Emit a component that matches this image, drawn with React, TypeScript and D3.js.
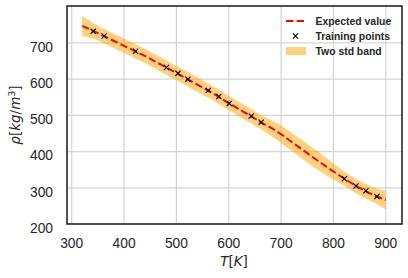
import * as d3 from "d3";

// prediction grid (K) and GP output
const tGrid = [
  320, 340, 360, 380, 400, 420, 440, 460, 480, 500, 520, 540, 560, 580, 600,
  620, 640, 660, 680, 700, 720, 740, 760, 780, 800, 820, 840, 860, 880, 900,
];
const expected = [
  747, 734, 720, 706, 692, 678, 664, 648, 633, 617, 601, 585, 569, 552, 534,
  517, 500, 482, 466, 448, 427, 406, 385, 365, 345, 326, 308, 292, 278, 266,
];
// two standard deviations
const twoStd = [
  28, 22, 20, 20, 20, 20, 20, 20, 20, 20, 20, 20, 20, 20, 20,
  20, 20, 20, 22, 24, 25, 26, 26, 25, 23, 20, 20, 20, 21, 26,
];

const trainT = [
  341, 362, 422, 481, 503, 522, 561, 581, 601, 643, 662, 821, 843, 862, 883,
];
const trainRho = [
  732, 719, 677, 632, 616, 600, 569, 552, 533, 498, 481, 325, 305, 292, 276,
];

const xTicks = [300, 400, 500, 600, 700, 800, 900];
const yTicks = [200, 300, 400, 500, 600, 700];

const legendLabels = ["Expected value", "Training points", "Two std band"];

export default function App() {
  const width = 408;
  const height = 278;
  const marginLeft = 67;
  const marginRight = 6;
  const marginTop = 6;
  const marginBottom = 54;

  const x = d3
    .scaleLinear()
    .domain([291, 931])
    .range([marginLeft, width - marginRight]);
  const y = d3
    .scaleLinear()
    .domain([200, 802])
    .range([height - marginBottom, marginTop]);

  const rows = tGrid.map((t, i) => ({
    t,
    mean: expected[i],
    lo: expected[i] - twoStd[i],
    hi: expected[i] + twoStd[i],
  }));

  const band = d3
    .area<(typeof rows)[number]>()
    .x((d) => x(d.t))
    .y0((d) => y(d.lo))
    .y1((d) => y(d.hi))
    .curve(d3.curveMonotoneX);
  const line = d3
    .line<(typeof rows)[number]>()
    .x((d) => x(d.t))
    .y((d) => y(d.mean))
    .curve(d3.curveMonotoneX);

  const tickFont = {
    fontFamily: "'Liberation Sans', Arial, sans-serif",
    fontSize: 13.8,
    fill: "#262626",
  };
  const mathFont = {
    fontFamily: "'DejaVu Sans', sans-serif",
    fontSize: 13.5,
    fill: "#262626",
  };

  const lx = 286;
  const ly = [21, 36, 51];

  return (
    <svg
      width={width}
      height={height}
      style={{ position: "absolute", left: 0, top: 0, background: "white" }}
    >
      <rect x={0} y={0} width={width} height={height} fill="white" />

      {/* grid */}
      {xTicks.map((t) => (
        <line
          key={"gx" + t}
          x1={x(t)}
          x2={x(t)}
          y1={marginTop}
          y2={height - marginBottom}
          stroke="#d4d4d4"
          strokeWidth={1.2}
        />
      ))}
      {yTicks.map((t) => (
        <line
          key={"gy" + t}
          x1={marginLeft}
          x2={width - marginRight}
          y1={y(t)}
          y2={y(t)}
          stroke="#d4d4d4"
          strokeWidth={1.2}
        />
      ))}

      <path d={band(rows) ?? ""} fill="orange" fillOpacity={0.5} />
      <path
        d={line(rows) ?? ""}
        fill="none"
        stroke="red"
        strokeWidth={2}
        strokeDasharray="7.4 3.2"
      />

      {trainT.map((t, i) => {
        const cx = x(t);
        const cy = y(trainRho[i]);
        const s = 2.6;
        return (
          <path
            key={"p" + i}
            d={`M${cx - s},${cy - s}L${cx + s},${cy + s}M${cx - s},${cy + s}L${cx + s},${cy - s}`}
            stroke="black"
            strokeWidth={1.1}
          />
        );
      })}

      {/* frame */}
      <rect
        x={marginLeft}
        y={marginTop}
        width={width - marginLeft - marginRight}
        height={height - marginTop - marginBottom}
        fill="none"
        stroke="#262626"
        strokeWidth={1.6}
      />

      {/* tick labels */}
      {xTicks.map((t) => (
        <text
          key={"tx" + t}
          x={x(t)}
          y={height - marginBottom + 24}
          textAnchor="middle"
          {...tickFont}
        >
          {t}
        </text>
      ))}
      {yTicks.map((t) => (
        <text
          key={"ty" + t}
          x={marginLeft - 14}
          y={y(t) + 8.8}
          textAnchor="end"
          {...tickFont}
        >
          {t}
        </text>
      ))}

      {/* axis labels */}
      <text x={x(610)} y={266} textAnchor="middle" {...mathFont}>
        <tspan fontStyle="italic">T</tspan>[<tspan fontStyle="italic">K</tspan>]
      </text>
      <text
        transform={`translate(19.5,${(marginTop + height - marginBottom) / 2}) rotate(-90)`}
        textAnchor="middle"
        {...mathFont}
      >
        <tspan fontStyle="italic">ρ</tspan>[<tspan fontStyle="italic">kg</tspan>/
        <tspan fontStyle="italic">m</tspan>
        <tspan fontSize={9.5} dy={-5}>
          3
        </tspan>
        <tspan dy={5}>]</tspan>
      </text>

      {/* legend */}
      <line
        x1={lx}
        x2={lx + 19}
        y1={ly[0]}
        y2={ly[0]}
        stroke="red"
        strokeWidth={2}
        strokeDasharray="7.4 3.2"
      />
      <path
        d={`M${lx + 9.5 - 2.6},${ly[1] - 2.6}L${lx + 9.5 + 2.6},${ly[1] + 2.6}M${lx + 9.5 - 2.6},${ly[1] + 2.6}L${lx + 9.5 + 2.6},${ly[1] - 2.6}`}
        stroke="black"
        strokeWidth={1.1}
      />
      <rect
        x={lx}
        y={ly[2] - 4}
        width={20}
        height={8}
        fill="orange"
        fillOpacity={0.5}
      />
      {legendLabels.map((label, i) => (
        <text
          key={label}
          x={315.5}
          y={ly[i] + 3.7}
          fontFamily="'Liberation Sans', Arial, sans-serif"
          fontWeight="bold"
          fontSize={10.4}
          fill="#262626"
        >
          {label}
        </text>
      ))}
    </svg>
  );
}
